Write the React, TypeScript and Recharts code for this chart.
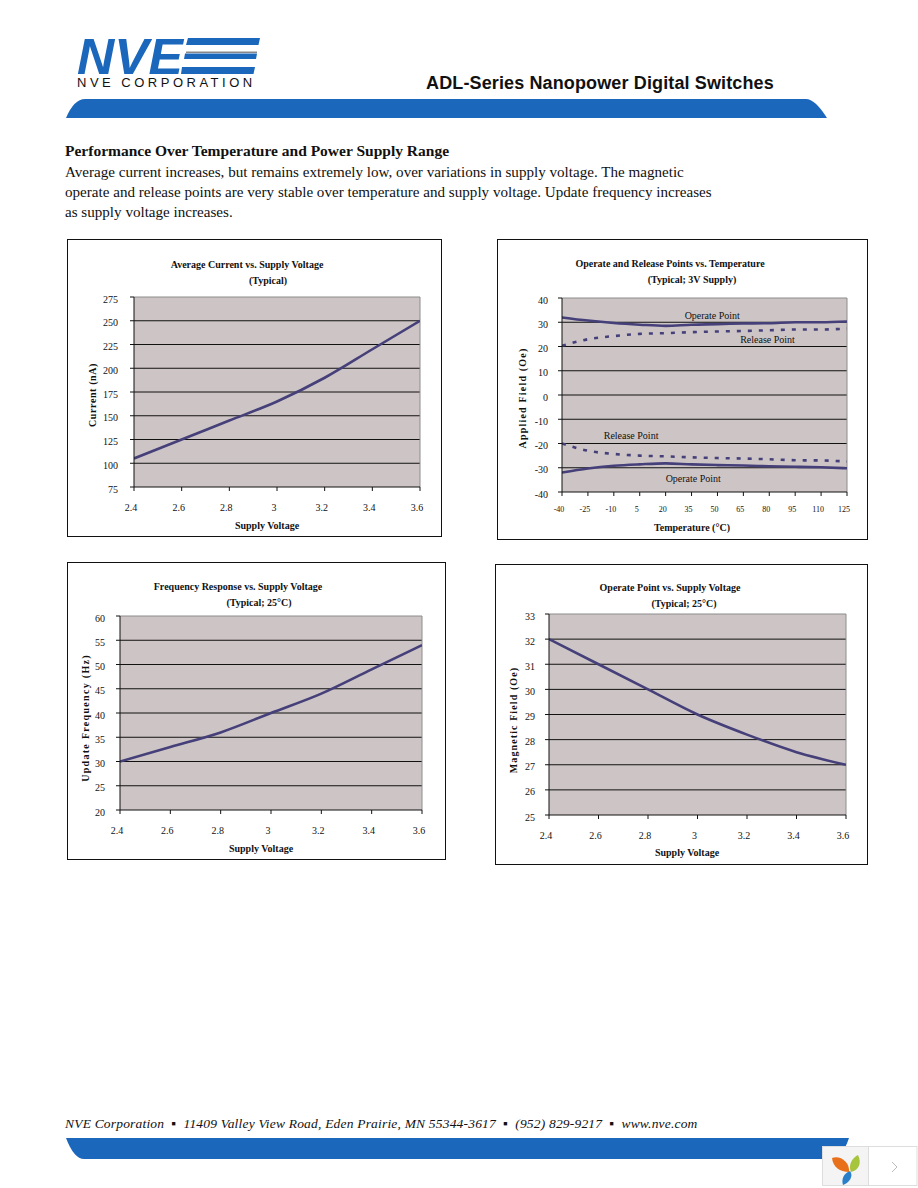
import React from 'react';
import { LineChart, Line, XAxis, YAxis, CartesianGrid, ReferenceLine, ReferenceDot } from 'recharts';

const voltageTicks = [2.4, 2.6, 2.8, 3, 3.2, 3.4, 3.6];
const currentValues = [105, 125, 145, 165, 190, 220, 250];
const currentTicks = [75, 100, 125, 150, 175, 200, 225, 250, 275];
const frequencyValues = [30, 33, 36, 40, 44, 49, 54];
const frequencyTicks = [20, 25, 30, 35, 40, 45, 50, 55, 60];
const operateVoltageValues = [32, 31, 30, 29, 28.2, 27.5, 27];
const operateVoltageTicks = [25, 26, 27, 28, 29, 30, 31, 32, 33];

const temperatures = [-40, -25, -10, 5, 20, 35, 50, 65, 80, 95, 110, 125];
const fieldTicks = [-40, -30, -20, -10, 0, 10, 20, 30, 40];
const operateHigh = [32, 30.7, 29.7, 29, 28.5, 29, 29.2, 29.5, 29.6, 30, 30, 30.3];
const releaseHigh = [20.3, 23, 24.3, 25.2, 25.5, 25.9, 26.2, 26.4, 26.7, 27, 27, 27.4];
const releaseLow = [-20, -23, -24.3, -25, -25.3, -25.7, -26, -26.2, -26.5, -26.9, -27, -27.4];
const operateLow = [-32, -30.3, -29.2, -28.6, -28.2, -28.6, -28.9, -29.1, -29.4, -29.6, -29.8, -30.2];

const SERIF = '"Liberation Serif", serif';
const SANS = '"Liberation Sans", sans-serif';
const BLUE = '#1a67bc';
const LINE = '#453f7a';

const zip = (xs: number[], ys: number[]) => xs.map((x, i) => ({ x, y: ys[i] }));

const tempData = temperatures.map((x, i) => ({
    x,
    opHi: operateHigh[i],
    relHi: releaseHigh[i],
    relLo: releaseLow[i],
    opLo: operateLow[i],
}));

interface PanelProps {
    box: { left: number; top: number; right: number; bottom: number };
    plot: { left: number; top: number; right: number; bottom: number };
    title: string[];
    titleCenter: number[];
    titleY: number[];
    xLabel: string;
    xLabelCenter: number;
    xLabelY: number;
    yLabel: string;
    yLabelX: number;
    yLabelY: number;
    yLabelSpacing?: number;
    xTicks: number[];
    yTicks: number[];
    data: any[];
    xTickSize?: number;
    xMargin: number;
    yMargin: number;
    children?: React.ReactNode;
}

const Panel: React.FC<PanelProps> = (p) => {
    const w = p.box.right - p.box.left;
    const h = p.box.bottom - p.box.top;
    const xMin = p.xTicks[0];
    const xMax = p.xTicks[p.xTicks.length - 1];
    const yMin = p.yTicks[0];
    const yMax = p.yTicks[p.yTicks.length - 1];
    const textStyle: React.CSSProperties = { position: 'absolute', fontFamily: SERIF, fontWeight: 'bold', fontSize: 10, color: '#111', whiteSpace: 'nowrap', lineHeight: '12px' };
    return (
        <div style={{ position: 'absolute', left: p.box.left, top: p.box.top, width: w, height: h, border: '1px solid #111', boxSizing: 'border-box' }}>
            <div style={{ position: 'absolute', left: -1, top: -1 }}>
                <LineChart
                    width={w}
                    height={h}
                    data={p.data}
                    margin={{ top: p.plot.top - p.box.top, right: p.box.right - p.plot.right, left: 0, bottom: 0 }}
                >
                    <CartesianGrid
                        fill="#cdc5c5"
                        vertical={false}
                        stroke="#111"
                        horizontalValues={p.yTicks.slice(1, -1)}
                    />
                    <XAxis
                        dataKey="x"
                        type="number"
                        domain={[xMin, xMax]}
                        ticks={p.xTicks}
                        interval={0}
                        height={p.box.bottom - p.plot.bottom}
                        tickSize={4}
                        tickMargin={p.xMargin}
                        stroke="#111"
                        dx={-3}
                        tick={{ fontSize: p.xTickSize ?? 10, fontFamily: SERIF, fill: '#111' }}
                        allowDataOverflow
                    />
                    <YAxis
                        type="number"
                        domain={[yMin, yMax]}
                        ticks={p.yTicks}
                        interval={0}
                        width={p.plot.left - p.box.left}
                        tickSize={4}
                        tickMargin={p.yMargin}
                        stroke="#111"
                        dy={2}
                        tick={{ fontSize: 10, fontFamily: SERIF, fill: '#111' }}
                    />
                    <ReferenceLine y={yMax} stroke="#8c8c8c" />
                    <ReferenceLine x={xMax} stroke="#8c8c8c" />
                    {p.children}
                </LineChart>
            </div>
            {p.title.map((t, i) => (
                <div key={t} style={{ ...textStyle, left: p.titleCenter[i] - p.box.left, top: p.titleY[i] - p.box.top - 6, transform: 'translateX(-50%)' }}>{t}</div>
            ))}
            <div style={{ ...textStyle, left: p.xLabelCenter - p.box.left, top: p.xLabelY - p.box.top - 6, transform: 'translateX(-50%)' }}>{p.xLabel}</div>
            <div style={{ ...textStyle, left: p.yLabelX - p.box.left, top: p.yLabelY - p.box.top, letterSpacing: p.yLabelSpacing ?? 0, transform: 'translate(-50%, -50%) rotate(-90deg)' }}>{p.yLabel}</div>
        </div>
    );
};

const curve = (dataKey: string, dash?: string) => (
    <Line
        key={dataKey}
        dataKey={dataKey}
        type="monotone"
        stroke={LINE}
        strokeWidth={2.6}
        strokeDasharray={dash}
        dot={false}
        activeDot={false}
        isAnimationActive={false}
    />
);

const note = (x: number, y: number, value: string) => (
    <ReferenceDot
        key={value + y}
        x={x}
        y={y}
        r={0}
        fill="none"
        stroke="none"
        label={{ value, position: 'center', fontSize: 10, fontFamily: SERIF, fill: '#111' }}
    />
);

const PageText: React.FC<{ left: number; top: number; style?: React.CSSProperties; children: React.ReactNode }> = ({ left, top, style, children }) => (
    <div style={{ position: 'absolute', left, top, whiteSpace: 'nowrap', fontFamily: SERIF, color: '#111', ...style }}>{children}</div>
);

export default function App() {
    return (
        <div style={{ position: 'absolute', left: 0, top: 0, width: 918, height: 1188, background: '#fff', overflow: 'hidden' }}>
            {/* header */}
            <svg width={918} height={125} style={{ position: 'absolute', left: 0, top: 0 }}>
                <text x={77} y={74} fontFamily={SANS} fontWeight="bold" fontStyle="italic" fontSize={50} fill={BLUE} textLength={106} lengthAdjust="spacingAndGlyphs">NVE</text>
                <polygon points="188,38 260,38 258.5,45 186,45" fill={BLUE} />
                <polygon points="185,53.5 257,53.5 256,59 184,59" fill={BLUE} />
                <polygon points="182,67 255,67 253.5,74 181,74" fill={BLUE} />
                <rect x={186} y={51.5} width={71} height={1.5} fill="#888" />
                <path d="M66,118 Q74,99 85,99 L806,99 Q815,99 827,118 Z" fill={BLUE} />
            </svg>
            <PageText left={77} top={75} style={{ fontFamily: SANS, fontSize: 13, letterSpacing: 3.5, lineHeight: '16px' }}>NVE CORPORATION</PageText>
            <PageText left={426} top={73} style={{ fontFamily: SANS, fontSize: 18, letterSpacing: 0.13, fontWeight: 'bold', lineHeight: '20px' }}>ADL-Series Nanopower Digital Switches</PageText>

            {/* intro */}
            <PageText left={65} top={142} style={{ fontSize: 15.5, fontWeight: 'bold', lineHeight: '18px' }}>Performance Over Temperature and Power Supply Range</PageText>
            <PageText left={65} top={163} style={{ fontSize: 15.1, lineHeight: '18px' }}>Average current increases, but remains extremely low, over variations in supply voltage. The magnetic</PageText>
            <PageText left={65} top={183} style={{ fontSize: 15.1, lineHeight: '18px' }}>operate and release points are very stable over temperature and supply voltage. Update frequency increases</PageText>
            <PageText left={65} top={203} style={{ fontSize: 15.1, lineHeight: '18px' }}>as supply voltage increases.</PageText>

            <Panel
                box={{ left: 67, top: 239, right: 442, bottom: 537 }}
                plot={{ left: 134, top: 297, right: 420, bottom: 487 }}
                title={['Average Current vs. Supply Voltage', '(Typical)']}
                titleCenter={[246, 267]}
                titleY={[264, 280]}
                xLabel="Supply Voltage"
                xLabelCenter={266}
                xLabelY={525}
                yLabel="Current (nA)"
                yLabelX={92}
                yLabelY={394}
                yLabelSpacing={0.6}
                xTicks={voltageTicks}
                yTicks={currentTicks}
                xMargin={13}
                yMargin={12}
                data={zip(voltageTicks, currentValues)}
            >
                {curve('y')}
            </Panel>

            <Panel
                box={{ left: 497, top: 239, right: 868, bottom: 540 }}
                plot={{ left: 562, top: 298, right: 847, bottom: 492 }}
                title={['Operate and Release Points vs. Temperature', '(Typical; 3V Supply)']}
                titleCenter={[669, 691]}
                titleY={[263, 279]}
                xLabel="Temperature (°C)"
                xLabelCenter={691}
                xLabelY={527}
                yLabel="Applied Field (Oe)"
                yLabelX={522}
                yLabelY={397}
                yLabelSpacing={1.2}
                xTicks={temperatures}
                yTicks={fieldTicks}
                xMargin={10}
                yMargin={10}
                xTickSize={8}
                data={tempData}
            >
                {curve('opHi')}
                {curve('relHi', '4 7')}
                {curve('relLo', '4 7')}
                {curve('opLo')}
                {note(47, 32.9, 'Operate Point')}
                {note(79, 23, 'Release Point')}
                {note(0, -16.5, 'Release Point')}
                {note(36, -34.4, 'Operate Point')}
            </Panel>

            <Panel
                box={{ left: 67, top: 562, right: 446, bottom: 860 }}
                plot={{ left: 120, top: 616, right: 422, bottom: 810 }}
                title={['Frequency Response vs. Supply Voltage', '(Typical; 25°C)']}
                titleCenter={[237, 258]}
                titleY={[586, 602]}
                xLabel="Supply Voltage"
                xLabelCenter={260}
                xLabelY={848}
                yLabel="Update Frequency (Hz)"
                yLabelX={85}
                yLabelY={717}
                yLabelSpacing={1.3}
                xTicks={voltageTicks}
                yTicks={frequencyTicks}
                xMargin={13}
                yMargin={11}
                data={zip(voltageTicks, frequencyValues)}
            >
                {curve('y')}
            </Panel>

            <Panel
                box={{ left: 495, top: 564, right: 868, bottom: 865 }}
                plot={{ left: 549, top: 614, right: 846, bottom: 815 }}
                title={['Operate Point vs. Supply Voltage', '(Typical; 25°C)']}
                titleCenter={[669, 683]}
                titleY={[587, 603]}
                xLabel="Supply Voltage"
                xLabelCenter={686}
                xLabelY={852}
                yLabel="Magnetic Field (Oe)"
                yLabelX={513}
                yLabelY={719}
                yLabelSpacing={1.1}
                xTicks={voltageTicks}
                yTicks={operateVoltageTicks}
                xMargin={13}
                yMargin={10}
                data={zip(voltageTicks, operateVoltageValues)}
            >
                {curve('y')}
            </Panel>

            {/* footer */}
            <PageText left={65} top={1115} style={{ fontSize: 13.5, fontStyle: 'italic', letterSpacing: 0.19, lineHeight: '18px' }}>
                NVE Corporation&nbsp; ▪ &nbsp;11409 Valley View Road, Eden Prairie, MN 55344-3617&nbsp; ▪ &nbsp;(952) 829-9217&nbsp; ▪ &nbsp;www.nve.com
            </PageText>
            <svg width={918} height={1188} style={{ position: 'absolute', left: 0, top: 0, pointerEvents: 'none' }}>
                <path d="M66,1138 L849,1138 Q842,1159 830,1159 L84,1159 Q74,1159 66,1138 Z" fill={BLUE} />
                <rect x={822.5} y={1146.5} width={94.5} height={39} fill="#fff" stroke="#ddd" />
                <rect x={823} y={1147} width={45} height={38} fill="#f4f4f4" />
                <line x1={868.5} y1={1147} x2={868.5} y2={1185} stroke="#ddd" />
                <path d="M832,1158 C840,1155 850,1162 849,1172 C840,1172 833,1167 832,1158 Z" fill="#e8701a" />
                <path d="M858,1155 C862,1163 859,1170 851,1172 C848,1165 852,1158 858,1155 Z" fill="#a6c43c" />
                <path d="M850,1171 C854,1176 849,1183 843,1185 C841,1179 844,1173 850,1171 Z" fill="#2a80c8" />
                <polyline points="892,1162 897,1167 892,1172" fill="none" stroke="#bbb" />
            </svg>
        </div>
    );
}
